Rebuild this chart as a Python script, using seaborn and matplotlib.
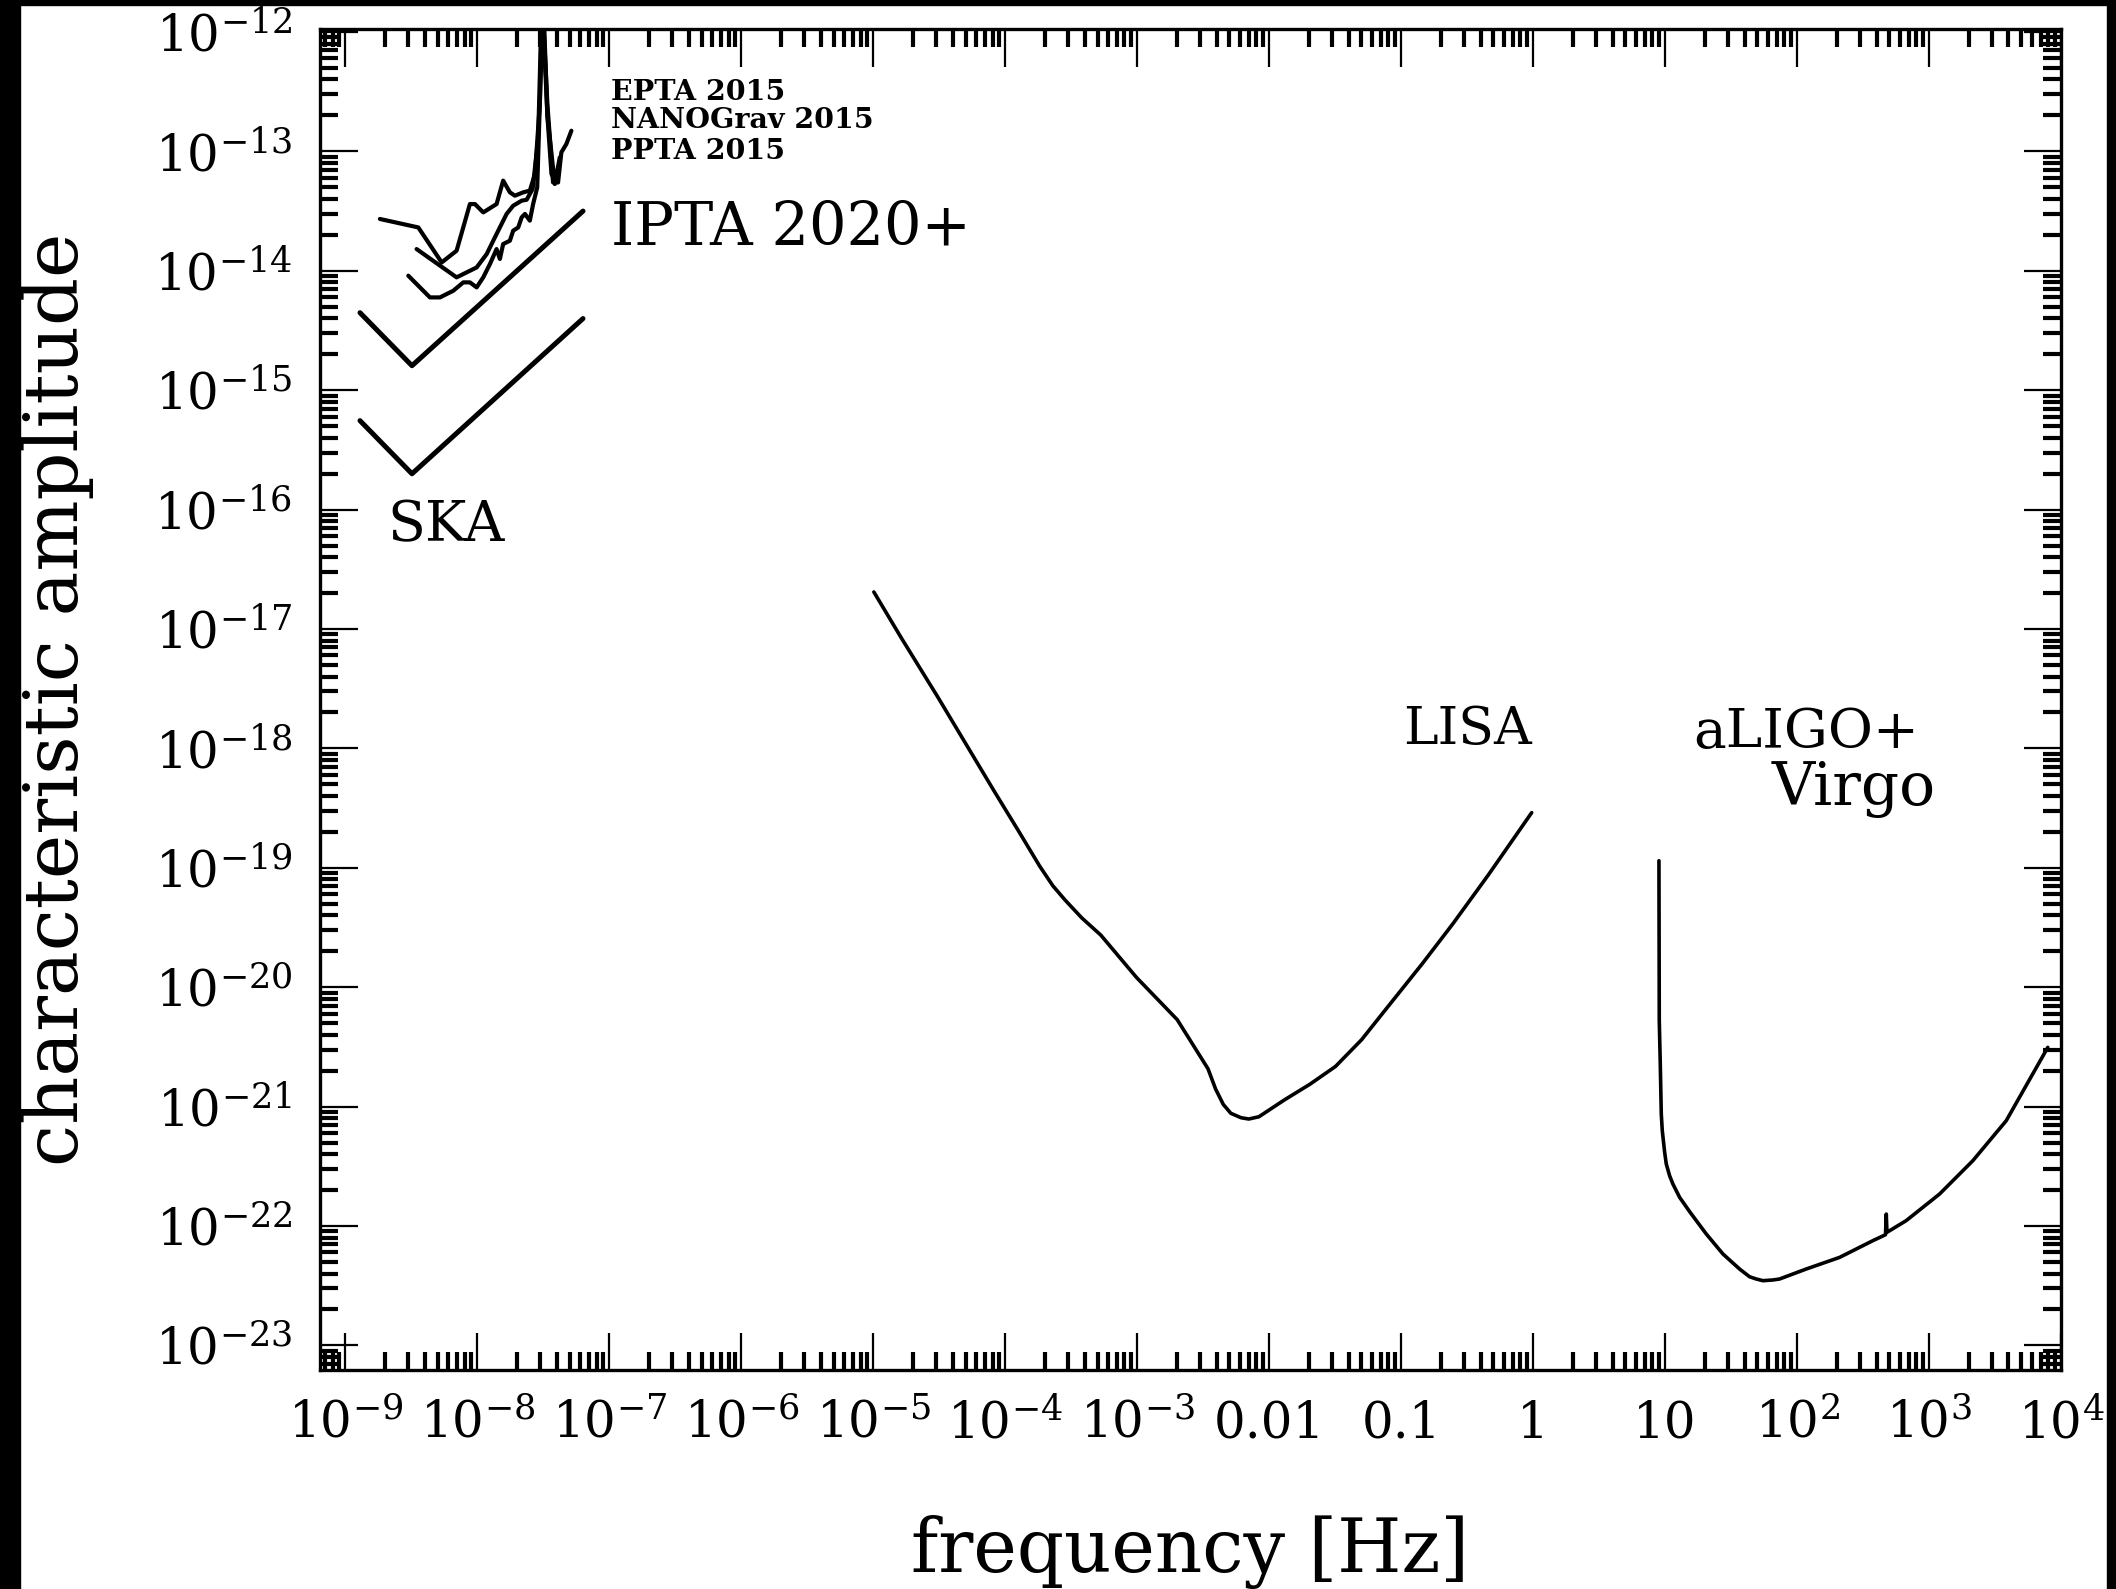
import numpy as np
import pandas as pd
import matplotlib
matplotlib.use("Agg")
import matplotlib.pyplot as plt
from matplotlib.patches import Rectangle
from matplotlib.ticker import FixedLocator, FixedFormatter, LogLocator, NullFormatter
import seaborn as sns

# ---------------- data (log10 of frequency [Hz] and characteristic amplitude) ----------------
pta_a_logf = [-8.739, -8.448, -8.271, -8.158, -8.057, -8.019, -7.956, -7.855, -7.805, -7.754,
              -7.716, -7.653, -7.603, -7.564, -7.527, -7.510, -7.470, -7.427, -7.389, -7.364,
              -7.326, -7.288]
pta_a_logh = [-13.566, -13.637, -13.930, -13.832, -13.441, -13.441, -13.511, -13.441, -13.245, -13.343,
              -13.371, -13.343, -13.329, -13.189, -12.600, -11.700, -12.600, -13.260, -13.260, -13.008,
              -12.938, -12.827]

pta_b_logf = [-8.461, -8.158, -8.006, -7.930, -7.855, -7.779, -7.729, -7.665, -7.627, -7.582,
              -7.540, -7.511, -7.470, -7.414, -7.376]
pta_b_logh = [-13.818, -14.055, -13.972, -13.860, -13.692, -13.524, -13.455, -13.413, -13.405, -13.315,
              -12.900, -11.700, -12.700, -13.273, -13.050]

pta_c_logf = [-8.524, -8.360, -8.284, -8.183, -8.107, -8.057, -8.006, -7.956, -7.905, -7.855,
              -7.830, -7.805, -7.754, -7.729, -7.691, -7.665, -7.640, -7.603, -7.578, -7.547,
              -7.502, -7.470, -7.439, -7.406]
pta_c_logh = [-14.041, -14.223, -14.223, -14.167, -14.097, -14.097, -14.139, -14.055, -13.943, -13.818,
              -13.901, -13.776, -13.748, -13.664, -13.637, -13.553, -13.524, -13.580, -13.441, -13.302,
              -11.700, -12.700, -13.189, -13.260]

ipta_logf = [-8.89, -8.496, -7.20]
ipta_logh = [-14.351, -14.795, -13.50]

ska_logf = [-8.89, -8.496, -7.20]
ska_logh = [-15.255, -15.700, -14.400]

lisa_logf = [-4.996, -4.784, -4.513, -4.300, -4.088, -3.895, -3.740, -3.640, -3.547, -3.420,
             -3.276, -3.006, -2.697, -2.464, -2.407, -2.348, -2.291, -2.214, -2.155, -2.078,
             -1.885, -1.692, -1.498, -1.300, -1.112, -0.842, -0.609, -0.339, -0.011]
lisa_logh = [-16.690, -17.082, -17.567, -17.960, -18.351, -18.700, -18.985, -19.150, -19.270, -19.420,
             -19.564, -19.918, -20.272, -20.683, -20.851, -20.982, -21.056, -21.093, -21.104, -21.085,
             -20.944, -20.813, -20.664, -20.440, -20.179, -19.806, -19.470, -19.059, -18.538]

ligo_logf = [0.9533, 0.9558, 0.9634, 0.9710, 0.9786, 0.9962, 1.0089, 1.0341, 1.059, 1.110,
             1.186, 1.312, 1.438, 1.564, 1.640, 1.691, 1.741, 1.817, 1.867, 2.070,
             2.322, 2.574, 2.670, 2.676, 2.681, 2.827, 3.080, 3.332, 3.585, 3.900]
ligo_logh = [-18.941, -20.281, -20.644, -21.062, -21.202, -21.380, -21.481, -21.579, -21.648, -21.760,
             -21.880, -22.067, -22.234, -22.360, -22.425, -22.444, -22.458, -22.452, -22.444, -22.360,
             -22.263, -22.123, -22.073, -21.900, -22.053, -21.955, -21.732, -21.453, -21.118, -20.504]

x_tick_exps = list(range(-9, 5))
x_tick_labels = [r"$10^{-9}$", r"$10^{-8}$", r"$10^{-7}$", r"$10^{-6}$", r"$10^{-5}$", r"$10^{-4}$",
                 r"$10^{-3}$", "0.01", "0.1", "1", "10", r"$10^{2}$", r"$10^{3}$", r"$10^{4}$"]
y_tick_exps = list(range(-23, -11))
y_tick_labels = [r"$10^{%d}$" % e for e in y_tick_exps]

# ---------------- style ----------------
sns.set_theme(style="ticks")
plt.rcParams["font.family"] = ["DejaVu Serif"]
plt.rcParams["mathtext.fontset"] = "dejavuserif"
plt.rcParams["text.color"] = "black"
plt.rcParams["axes.labelcolor"] = "black"
plt.rcParams["xtick.color"] = "black"
plt.rcParams["ytick.color"] = "black"

W, H = 2116, 1589
fig = plt.figure(figsize=(W / 100, H / 100), dpi=100, facecolor="white")
ax = fig.add_axes([320 / W, 1 - 1370 / H, (2061 - 320) / W, (1370 - 29) / H])
ax.set_facecolor("white")

curves = [
    (pta_a_logf, pta_a_logh, 3.0),
    (pta_b_logf, pta_b_logh, 3.0),
    (pta_c_logf, pta_c_logh, 3.0),
    (ipta_logf, ipta_logh, 3.6),
    (ska_logf, ska_logh, 3.6),
    (lisa_logf, lisa_logh, 2.6),
    (ligo_logf, ligo_logh, 2.6),
]
for lf, lh, lw in curves:
    df = pd.DataFrame({"f": 10.0 ** np.array(lf), "h": 10.0 ** np.array(lh)})
    sns.lineplot(data=df, x="f", y="h", ax=ax, sort=False, estimator=None,
                 color="black", linewidth=lw)

ax.set_xscale("log")
ax.set_yscale("log")
ax.set_xlim(10 ** -9.193, 1e4)
ax.set_ylim(10 ** -23.206, 10 ** -11.975)

ax.xaxis.set_major_locator(FixedLocator([10.0 ** e for e in x_tick_exps]))
ax.xaxis.set_major_formatter(FixedFormatter(x_tick_labels))
ax.yaxis.set_major_locator(FixedLocator([10.0 ** e for e in y_tick_exps]))
ax.yaxis.set_major_formatter(FixedFormatter(y_tick_labels))
ax.xaxis.set_minor_locator(LogLocator(base=10, subs=np.arange(2, 10), numticks=200))
ax.yaxis.set_minor_locator(LogLocator(base=10, subs=np.arange(2, 10), numticks=200))
ax.xaxis.set_minor_formatter(NullFormatter())
ax.yaxis.set_minor_formatter(NullFormatter())

ax.tick_params(which="both", direction="in", top=True, right=True, color="black")
ax.tick_params(which="major", length=27, width=1.6, labelsize=36, labelcolor="black")
ax.tick_params(which="minor", length=13, width=3.0)
ax.tick_params(axis="x", which="major", pad=21)
ax.tick_params(axis="y", which="major", pad=20)
for s in ax.spines.values():
    s.set_visible(True)
    s.set_color("black")
    s.set_linewidth(2.4)

ax.set_xlabel("frequency [Hz]", fontsize=53, color="black")
ax.xaxis.set_label_coords(0.5, -0.1357)
ax.xaxis.label.set_va("center")
ax.set_ylabel("characteristic amplitude", fontsize=54, color="black")
ax.yaxis.set_label_coords(-0.151, 0.5)
ax.yaxis.label.set_va("center")

# annotations
for txt, ypos in [("EPTA 2015", 0.953), ("NANOGrav 2015", 0.9314), ("PPTA 2015", 0.909)]:
    ax.text(0.1671, ypos, txt, transform=ax.transAxes, fontsize=20.5, fontweight="bold",
            va="center", ha="left", color="black")
ax.text(0.1671, 0.8523, "IPTA 2020+", transform=ax.transAxes, fontsize=42.5, va="center",
        ha="left", color="black")
ax.text(0.0385, 0.6294, "SKA", transform=ax.transAxes, fontsize=40, va="center", ha="left",
        color="black")
ax.text(0.622, 0.4773, "LISA", transform=ax.transAxes, fontsize=37.5, va="center", ha="left",
        color="black")
ax.text(0.789, 0.475, "aLIGO+", transform=ax.transAxes, fontsize=39.5, va="center", ha="left",
        color="black")
ax.text(0.834, 0.4333, "Virgo", transform=ax.transAxes, fontsize=43, va="center", ha="left",
        color="black")

# black frame strips around the picture
fig.add_artist(Rectangle((0, 0), 20 / W, 1, transform=fig.transFigure, color="black", zorder=10))
fig.add_artist(Rectangle((0, 1 - 5 / H), 1, 5 / H, transform=fig.transFigure, color="black", zorder=10))
fig.add_artist(Rectangle((2107 / W, 0), 9 / W, 1, transform=fig.transFigure, color="black", zorder=10))

fig.savefig("out.png", dpi=100, facecolor="white")
